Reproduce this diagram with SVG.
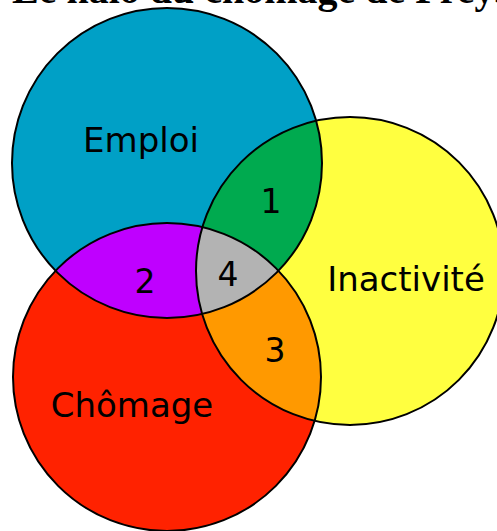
<svg xmlns="http://www.w3.org/2000/svg" width="497" height="531" viewBox="0 0 497 531">
  <style>
    .lbl { font-family: "DejaVu Sans", sans-serif; font-size: 34px; fill: #000; text-anchor: middle; }
    .num { font-family: "DejaVu Sans", sans-serif; font-size: 33px; fill: #000; text-anchor: middle; }
    .title { font-family: "Liberation Serif", serif; font-size: 40px; font-weight: bold; fill: #000; }
    .edge { fill: none; stroke: #000; stroke-width: 2; }
  </style>
  <defs>
    <circle id="cE" cx="167" cy="163" r="155"/>
    <circle id="cC" cx="167" cy="377" r="154"/>
    <circle id="cI" cx="350" cy="271" r="154"/>
    <clipPath id="clipE"><use href="#cE"/></clipPath>
    <clipPath id="clipC"><use href="#cC"/></clipPath>
    <clipPath id="clipI"><use href="#cI"/></clipPath>
  </defs>
  <rect width="497" height="531" fill="#fff"/>
  <text class="title" x="12" y="3">Le halo du chômage de Freyssinet</text>

  <g id="emploi">
    <use href="#cE" fill="#00a0c6"/>
  </g>
  <g id="chomage">
    <use href="#cC" fill="#ff2200"/>
  </g>
  <g id="inactivite">
    <use href="#cI" fill="#ffff40"/>
  </g>
  <g id="zone1">
    <use href="#cE" fill="#00aa4f" clip-path="url(#clipI)"/>
  </g>
  <g id="zone2">
    <use href="#cE" fill="#bf00ff" clip-path="url(#clipC)"/>
  </g>
  <g id="zone3">
    <use href="#cC" fill="#ff9900" clip-path="url(#clipI)"/>
  </g>
  <g id="zone4" clip-path="url(#clipC)">
    <use href="#cE" fill="#b3b3b3" clip-path="url(#clipI)"/>
  </g>
  <g id="outlines">
    <use href="#cE" class="edge"/>
    <use href="#cC" class="edge"/>
    <use href="#cI" class="edge"/>
  </g>
  <g id="labels">
    <text class="lbl" x="141" y="152">Emploi</text>
    <text class="lbl" x="406" y="291">Inactivité</text>
    <text class="lbl" x="132" y="417">Chômage</text>
    <text class="num" x="271" y="213">1</text>
    <text class="num" x="145" y="293">2</text>
    <text class="num" x="275" y="362">3</text>
    <text class="num" x="228" y="286">4</text>
  </g>
</svg>
